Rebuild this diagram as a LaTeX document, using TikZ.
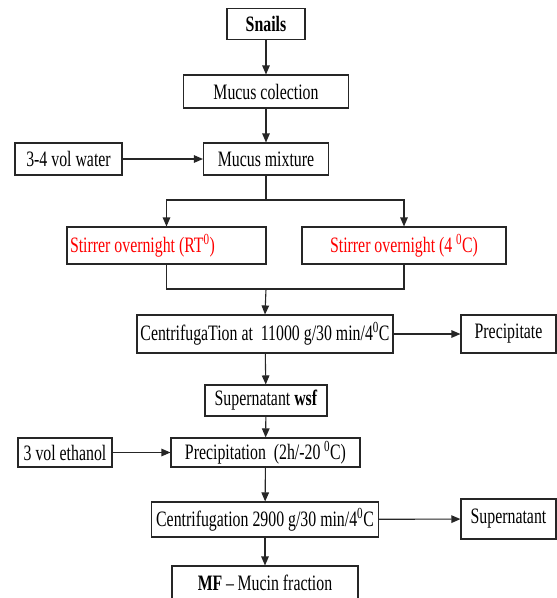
\documentclass[tikz,border=0pt]{standalone}
\usepackage{fontspec}
\setmainfont{Liberation Serif}[FakeStretch=0.72]
\usetikzlibrary{arrows.meta}
\definecolor{redtxt}{RGB}{255,0,0}
\newcommand{\dgz}{\textsuperscript{0}}
\tikzset{
  box/.style={draw=black!85, line width=1.1pt, inner sep=3pt, align=center,
    font=\fontsize{22pt}{25pt}\selectfont},
  conn/.style={draw=black!85, line width=1.1pt},
  arr/.style={conn, -{Triangle[length=9pt,width=7.5pt]}},
  redbox/.style={box, text=redtxt}
}
\begin{document}
\begin{tikzpicture}[x=1pt,y=-1pt]
\useasboundingbox (0,0) rectangle (557,598);
\clip (0,0) rectangle (557,598);
\fill[white] (0,0) rectangle (557,598);

\node[box, minimum width=78pt, minimum height=31pt] (snails) at (266,24) {\textbf{Snails}};
\node[box, minimum width=165pt, minimum height=33pt] (coll) at (266,91.5) {Mucus colection};
\node[box, minimum width=125pt, minimum height=32pt] (mix) at (266,159) {Mucus mixture};
\node[box, minimum width=107pt, minimum height=32pt] (water) at (68.5,159) {3-4 vol water};
\node[redbox, minimum width=199pt, minimum height=37pt] (rt) at (166.5,245.5) {\makebox[193pt][l]{Stirrer overnight (RT\dgz)}};
\node[redbox, minimum width=204pt, minimum height=37pt] (fc) at (404,245.5) {Stirrer overnight (4\,\dgz C)};
\node[box, minimum width=256pt, minimum height=38pt] (cenA) at (265,334) {CentrifugaTion at\ \ 11000 g/30 min/4\dgz C};
\node[box, minimum width=95pt, minimum height=38pt] (prec) at (508.5,334) {Precipitate};
\node[box, minimum width=122pt, minimum height=31pt] (wsf) at (266,400.5) {Supernatant \textbf{wsf}};
\node[box, minimum width=94pt, minimum height=29pt] (eth) at (65,452.5) {3 vol ethanol};
\node[box, minimum width=189pt, minimum height=29pt] (pcp) at (265.5,452.5) {Precipitation\ \ (2h/-20\,\dgz C)};
\node[box, minimum width=227pt, minimum height=35pt] (cenB) at (265,519.5) {Centrifugation 2900 g/30 min/4\dgz C};
\node[box, minimum width=95pt, minimum height=40pt] (sup) at (508.5,519) {Supernatant};
\node[box, minimum width=186pt, minimum height=34pt] (mf) at (265,583) {\textbf{MF}\,–\,Mucin fraction};

\coordinate (split) at (266,200);
\coordinate (join) at (266,289);

\draw[arr] (snails) -- (coll);
\draw[arr] (coll) -- (mix);
\draw[arr] (water) -- (mix);
\draw[conn] (mix.south) -- (split);
\draw[arr] (split) -| (rt.north);
\draw[arr] (split) -| (fc.north);
\draw[conn] (rt.south) |- (join) -| (fc.south);
\draw[arr] (join) -- (cenA.north);
\draw[arr] (cenA) -- (prec);
\draw[arr] (cenA) -- (wsf);
\draw[arr] (wsf) -- (pcp);
\draw[arr] (eth) -- (pcp);
\draw[arr] (pcp) -- (cenB);
\draw[arr] (cenB) -- (sup);
\draw[arr] (cenB) -- (mf);
\end{tikzpicture}
\end{document}
